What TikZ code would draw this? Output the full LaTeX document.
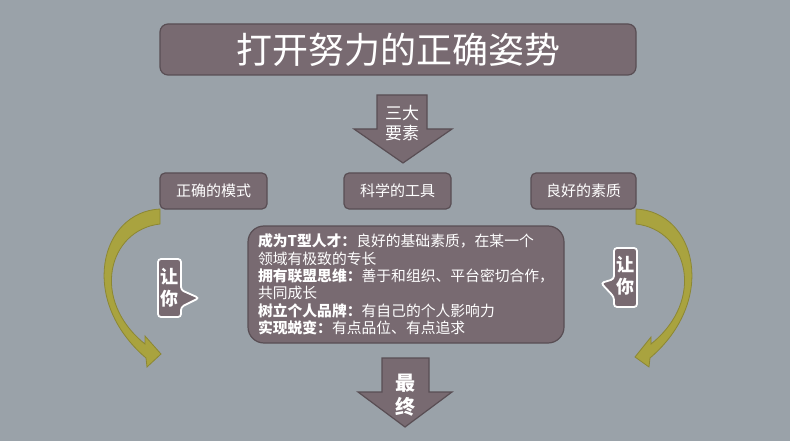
\documentclass[tikz,border=0pt]{standalone}
\usepackage{fontspec}
\setmainfont{Noto Sans CJK SC}

\definecolor{bgcol}{HTML}{9AA2A9}
\definecolor{boxcol}{HTML}{786A71}
\definecolor{boxedge}{HTML}{594E54}
\definecolor{olivecol}{HTML}{A9A33F}
\definecolor{oliveedge}{HTML}{8C8733}

\begin{document}
\begin{tikzpicture}[x=1pt,y=-1pt,
    box/.style={fill=boxcol, draw=boxedge, line width=1.2pt, rounded corners=5pt, text=white, inner sep=0pt},
    blockarrow/.style={fill=boxcol, draw=boxedge, line width=1.2pt},
    curvearrow/.style={fill=olivecol, draw=oliveedge, line width=0.8pt},
    tag/.style={fill=boxcol, draw=white, line width=1.8pt, rounded corners=3pt},
    label/.style={text=white, align=center, inner sep=0pt}]
    \fill [bgcol] (0,0) rectangle (790,441);

    \node [box, rounded corners=8pt, minimum width=476pt, minimum height=51pt,
           font=\fontsize{36}{40}\selectfont] (title) at (398,49.5) {打开努力的正确姿势};

    % three elements
    \draw [blockarrow] (377,95) -- (427,95) -- (427,129) -- (452,129) -- (403,163) -- (354,129) -- (377,129) -- cycle;
    \node [label, font=\fontsize{17}{20}\selectfont] (three) at (402,123) {三大\\要素};

    \node [box, minimum width=107pt, minimum height=36pt, font=\fontsize{15}{18}\selectfont] (mode) at (213.5,191) {正确的模式};
    \node [box, minimum width=107pt, minimum height=36pt, font=\fontsize{15}{18}\selectfont] (tool) at (397.5,191) {科学的工具};
    \node [box, minimum width=105pt, minimum height=36pt, font=\fontsize{15}{18}\selectfont] (trait) at (583.5,191) {良好的素质};

    \node [box, rounded corners=16pt, minimum width=316pt, minimum height=117pt, inner xsep=9pt,
           align=left, font=\fontsize{14.8}{17.4}\selectfont] (core) at (406,284.5)
        {\textbf{成为T型人才：}良好的基础素质，在某一个\\
         领域有极致的专长\\
         \textbf{拥有联盟思维：}善于和组织、平台密切合作，\\
         共同成长\\
         \textbf{树立个人品牌：}有自己的个人影响力\\
         \textbf{实现蜕变：}有点品位、有点追求};

    % finally
    \draw [blockarrow] (382,358) -- (429,358) -- (429,392) -- (452,392) -- (405,427) -- (358,392) -- (382,392) -- cycle;
    \node [label, font=\fontsize{20}{24}\selectfont\bfseries] (final) at (405,395) {最\\终};

    % curved arrows
    \draw [curvearrow] (160,209) .. controls (100,212) and (78,300) .. (146,358) -- (147,367) -- (161,354)
        -- (145,336) -- (145,344) .. controls (90,300) and (108,230) .. (160,224) -- cycle;
    \draw [curvearrow] (636,209) .. controls (696,212) and (718,300) .. (650,358) -- (649,367) -- (635,357)
        -- (651,337) -- (651,344) .. controls (706,300) and (688,230) .. (636,224) -- cycle;

    \draw [tag] (158,259) -- (181,259) -- (181,290) -- (199,298) -- (181,307) -- (181,317) -- (158,317) -- cycle;
    \node [label, font=\fontsize{18}{22}\selectfont\bfseries] (youleft) at (169.5,288) {让\\你};
    \draw [tag] (614,248) -- (637,248) -- (637,307) -- (614,307) -- (614,297) -- (601,283) -- (614,279) -- cycle;
    \node [label, font=\fontsize{18}{22}\selectfont\bfseries] (youright) at (625.5,276) {让\\你};
\end{tikzpicture}
\end{document}
